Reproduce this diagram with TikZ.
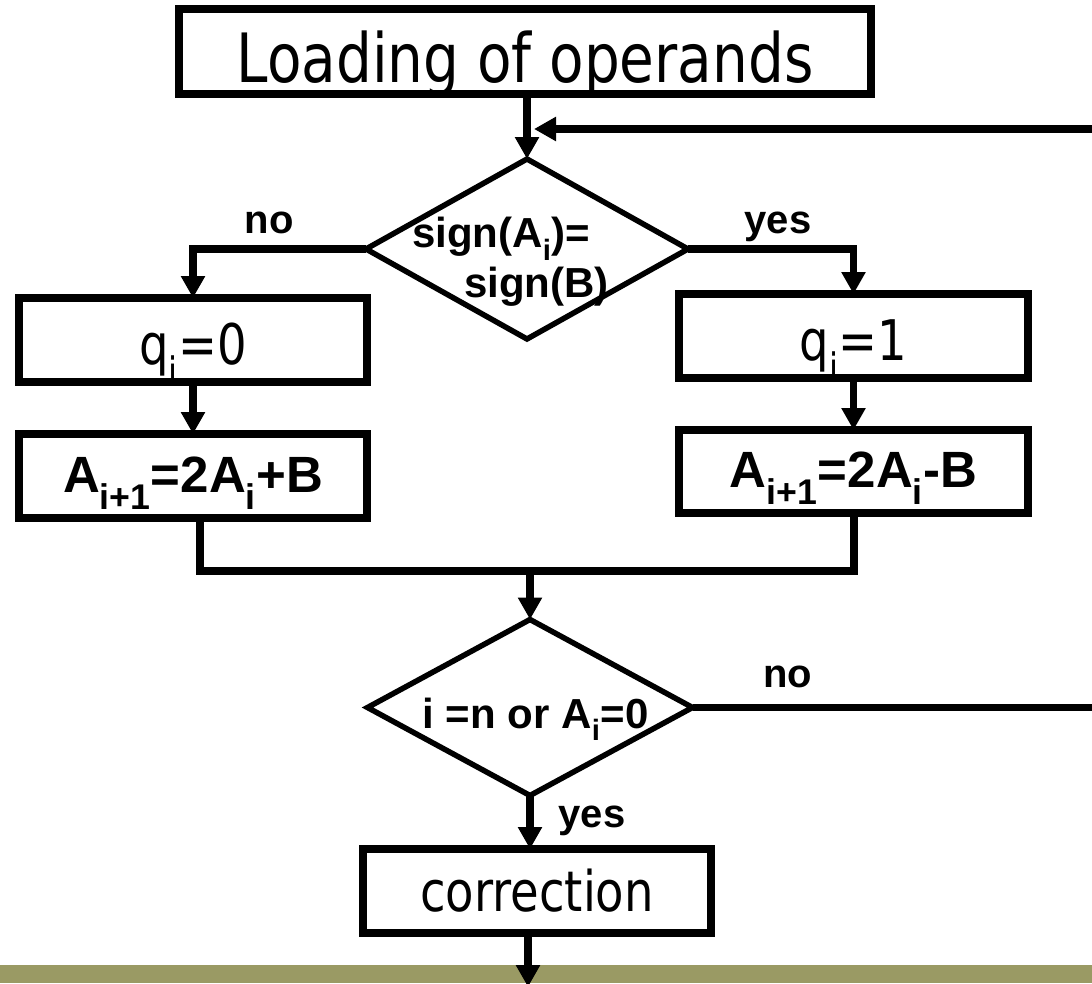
\documentclass[tikz,border=0pt]{standalone}
\usepackage{fontspec}
\usetikzlibrary{arrows.meta,shapes.geometric}
\newfontfamily\boxfont[FakeStretch=0.83]{DejaVu Sans}
\newfontfamily\labfont{Liberation Sans}
\definecolor{bandolive}{RGB}{154,154,100}
\begin{document}
\begin{tikzpicture}[x=1pt,y=-1pt,
  wire/.style={line width=7.5pt},
  conn/.style={line width=7.5pt,-{Triangle[length=22pt,width=23pt]}},
  stepbox/.style={draw,rectangle,line width=8pt,inner sep=0pt,outer sep=0pt,
    font=\boxfont\fontsize{56}{60}\selectfont},
  eqbox/.style={stepbox,font=\labfont\bfseries\fontsize{51}{56}\selectfont,
    text height=32pt,text depth=0pt},
  decide/.style={draw,diamond,line width=5.5pt,inner sep=0pt,outer sep=0pt},
  dtext/.style={inner sep=0pt,font=\labfont\bfseries\fontsize{42}{50}\selectfont},
  answer/.style={inner sep=0pt,anchor=base,font=\labfont\bfseries\fontsize{40}{48}\selectfont}]
\useasboundingbox (0,0) rectangle (1092,983);
\clip (0,0) rectangle (1092,983);

% olive strip along the bottom edge
\fill[bandolive] (0,965) rectangle (1092,983);

% boxes
\node[stepbox,minimum width=692pt,minimum height=85pt,
  font=\boxfont\fontsize{68}{70}\selectfont,text height=62pt,text depth=0pt]
  (load) at (525,51.5) {Loading of operands};
\node[stepbox,minimum width=348pt,minimum height=84pt,text height=48pt,text depth=0pt]
  (q0) at (193,340) {q\textsubscript{i}=0};
\node[stepbox,minimum width=349pt,minimum height=84pt,text height=48pt,text depth=0pt]
  (q1) at (853.5,336) {q\textsubscript{i}=1};
\node[eqbox,minimum width=348pt,minimum height=84pt] (a0) at (193,476)
  {A\textsubscript{i+1}=2A\textsubscript{i}+B};
\node[eqbox,minimum width=349pt,minimum height=83pt] (a1) at (853.5,471.5)
  {A\textsubscript{i+1}=2A\textsubscript{i}-B};
\node[stepbox,minimum width=348pt,minimum height=84pt] (corr) at (537,891)
  {correction};

% decisions
\node[decide,minimum width=322pt,minimum height=180pt] (d1) at (527,249) {};
\node[dtext,align=left] (d1t) at (510.5,262)
  {sign(A\textsubscript{i})=\\\hspace*{52pt}sign(B)};
\node[decide,minimum width=325pt,minimum height=176pt] (d2) at (530,707.5) {};
\node[dtext,anchor=base] (d2t) at (535.5,728) {i =n or A\textsubscript{i}=0};

% branch labels
\node[answer] (no1) at (269,233) {no};
\node[answer] (yes1) at (778,233) {yes};
\node[answer] (no2) at (787.5,687) {no};
\node[answer] (yes2) at (592,827) {yes};

% helper points
\coordinate (m0) at (200,571);
\coordinate (m1) at (854,571);
\coordinate (edgeA) at (1100,708);
\coordinate (edgeB) at (1100,129);
\coordinate (fbin) at (534,129);
\coordinate (out) at (528,987);

% connectors
\draw[conn] (d1.north |- load.south) -- (d1.north);
\draw[conn] (edgeA |- d2.east) -- (edgeB) -- (fbin);
\draw[wire] (d2.east) -- (edgeA |- d2.east);
\draw[conn] (d1.west) -| (q0.north);
\draw[conn] (d1.east) -| (q1.north);
\draw[conn] (q0.south) -- (a0.north);
\draw[conn] (q1.south) -- (a1.north);
\draw[wire] (a0.south -| m0) -- (m0) -- (m1) -- (a1.south -| m1);
\draw[conn] (d2.north |- m0) -- (d2.north);
\draw[conn] (d2.south) -- (d2.south |- corr.north);
\draw[conn] (out |- corr.south) -- (out);
\end{tikzpicture}
\end{document}
